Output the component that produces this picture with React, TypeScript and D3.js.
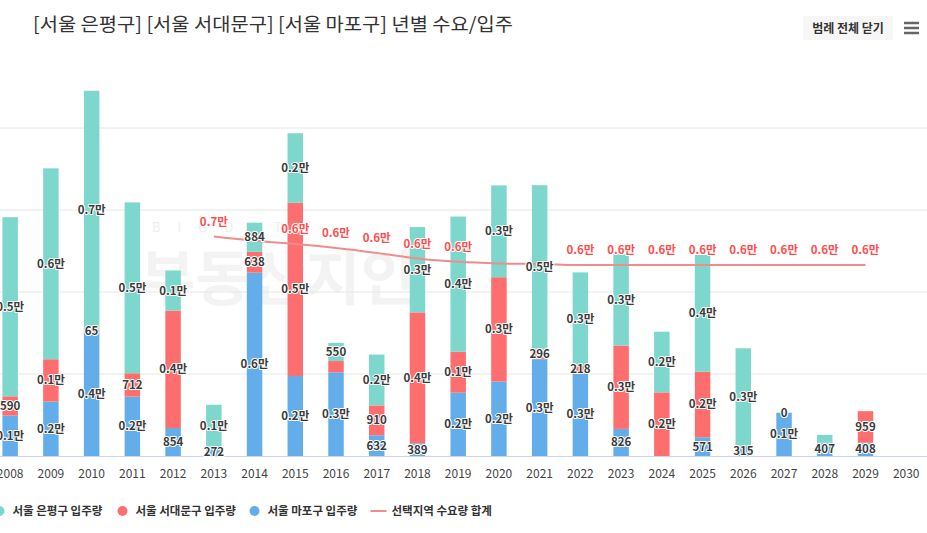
import { useMemo } from 'react';
import * as d3 from 'd3';

// years on the x axis
const years = [
  2008, 2009, 2010, 2011, 2012, 2013, 2014, 2015, 2016, 2017, 2018, 2019,
  2020, 2021, 2022, 2023, 2024, 2025, 2026, 2027, 2028, 2029, 2030,
];

// 서울 은평구 입주량
const eunpyeong: Array<number | null> = [
  5460, 5820, 7300, 5210, 1220, 1290, 884, 2120, 550, 1550, 2600, 4120,
  2800, 5010, 2840, 2780, 1850, 3560, 2970, 0, 235, null, null,
];
// 서울 서대문구 입주량
const seodaemun: Array<number | null> = [
  590, 1290, 65, 712, 3580, null, 638, 5280, 345, 910, 3990, 1250,
  3180, 296, 218, 2540, 1940, 2000, null, null, null, 959, null,
];
// 서울 마포구 입주량
const mapo: Array<number | null> = [
  1230, 1660, 3770, 1810, 854, 272, 5590, 2440, 2550, 632, 389, 1930,
  2270, 2950, 2540, 826, null, 571, 315, 1320, 407, 408, null,
];
// 선택지역 수요량 합계
const demand: Array<number | null> = [
  null, null, null, null, null, 6690, 6560, 6460, 6340, 6190, 6020, 5920,
  5870, 5850, 5820, 5820, 5820, 5820, 5820, 5820, 5820, 5820, null,
];

const gridTicks = [2500, 5000, 7500, 10000];

const W = 927;
const H = 533;
const FONT = '"Noto Sans CJK KR", "Noto Sans", sans-serif';

const C_TEAL = '#7dd7cc';
const C_RED = '#ff6e6e';
const C_BLUE = '#63aeea';
const C_LINE = '#f08c8c';
const C_LINE_LABEL = '#ff4d4d';

function fmt(v: number): string {
  return v >= 1000 ? `${(v / 10000).toFixed(1)}만` : String(v);
}

function textWidth(s: string): number {
  let w = 0;
  for (const ch of s) w += /[\u3131-\uD79D]/.test(ch) ? 11 : 6.6;
  return w;
}

interface Label {
  x: number;
  y: number;
  text: string;
  rank: number;
  line: boolean;
}

export default function App() {
  const x = d3
    .scaleBand<number>()
    .domain(years)
    .range([-10.2, -10.2 + years.length * 40.73]);
  const y = d3.scaleLinear().domain([0, 12500]).range([456, 46]);
  const bw = x.bandwidth() * 0.38;
  const cx = (yr: number) => (x(yr) ?? 0) + x.bandwidth() / 2;

  const series = [
    { name: '서울 마포구 입주량', color: C_BLUE, values: mapo },
    { name: '서울 서대문구 입주량', color: C_RED, values: seodaemun },
    { name: '서울 은평구 입주량', color: C_TEAL, values: eunpyeong },
  ];

  const { rects, labels } = useMemo(() => {
    const rects: Array<{ key: string; x: number; y: number; h: number; color: string }> = [];
    const all: Label[] = [];
    years.forEach((yr, i) => {
      let base = 0;
      series.forEach((s) => {
        const v = s.values[i];
        if (v == null) return;
        const y0 = y(base);
        const y1 = y(base + v);
        rects.push({ key: `${s.name}-${yr}`, x: cx(yr) - bw / 2, y: y1, h: y0 - y1, color: s.color });
        all.push({ x: cx(yr), y: (y0 + y1) / 2, text: fmt(v), rank: y0 - y1, line: false });
        base += v;
      });
      const d = demand[i];
      if (d != null) {
        all.push({ x: cx(yr), y: y(d) - 15, text: fmt(d), rank: -1, line: true });
      }
    });
    // hide overlapping labels, larger segments win
    const placed: Label[] = [];
    [...all]
      .sort((a, b) => b.rank - a.rank)
      .forEach((l) => {
        const w = textWidth(l.text);
        const hit = placed.some((p) => {
          const pw = textWidth(p.text);
          return Math.abs(p.y - l.y) < 20 && Math.abs(p.x - l.x) < (w + pw) / 2;
        });
        if (!hit) placed.push(l);
      });
    return { rects, labels: placed };
  }, []);

  const linePts = years
    .map((yr, i) => ({ yr, v: demand[i] }))
    .filter((d) => d.v != null) as Array<{ yr: number; v: number }>;
  const linePath = d3
    .line<{ yr: number; v: number }>()
    .x((d) => cx(d.yr))
    .y((d) => y(d.v))
    .curve(d3.curveMonotoneX)(linePts);

  const legend = [
    { name: '서울 은평구 입주량', color: C_TEAL, x: -0.5, type: 'dot' },
    { name: '서울 서대문구 입주량', color: C_RED, x: 122.5, type: 'dot' },
    { name: '서울 마포구 입주량', color: C_BLUE, x: 254.5, type: 'dot' },
    { name: '선택지역 수요량 합계', color: C_LINE, x: 378.5, type: 'line' },
  ];

  return (
    <div style={{ position: 'absolute', left: 0, top: 0 }}>
      <svg width={W} height={H} viewBox={`0 0 ${W} ${H}`} style={{ display: 'block', fontFamily: FONT }}>
        <rect width={W} height={H} fill="#fff" />

        {/* title */}
        <text x={33} y={31} fontSize={18.5} fill="#333" textLength={480} lengthAdjust="spacingAndGlyphs">
          [서울 은평구] [서울 서대문구] [서울 마포구] 년별 수요/입주
        </text>

        {/* legend toggle button + menu */}
        <rect x={803} y={16} width={90} height={24} rx={2} fill="#f6f6f6" />
        <text x={848} y={32.5} fontSize={12} fontWeight={700} fill="#333" textAnchor="middle">
          범례 전체 닫기
        </text>
        {[23, 28, 33].map((ly) => (
          <line key={ly} x1={904} x2={919} y1={ly} y2={ly} stroke="#666" strokeWidth={2.5} />
        ))}

        {/* watermark */}
        <g opacity={0.9}>
          <text x={152} y={232} fontSize={13} letterSpacing={17} fill="#ededed">
            BIGDATA
          </text>
          <text x={140} y={300} fontSize={60} fontWeight={700} fill="#f2f2f2">
            부동산지인
          </text>
        </g>

        {/* grid */}
        {gridTicks.map((t) => (
          <line key={t} x1={0} x2={W} y1={y(t)} y2={y(t)} stroke="#e6e6e6" strokeWidth={1} />
        ))}

        {/* bars */}
        {rects.map((r) => (
          <rect key={r.key} x={r.x} y={r.y} width={bw} height={Math.max(0, r.h)} fill={r.color} />
        ))}

        {/* x axis */}
        <line x1={0} x2={W} y1={y(0) + 0.5} y2={y(0) + 0.5} stroke="#ccd6eb" strokeWidth={1} />
        {years.map((yr) => (
          <text key={yr} x={cx(yr)} y={478} fontSize={12} fill="#444" textAnchor="middle">
            {yr}
          </text>
        ))}

        {/* demand line */}
        <path d={linePath ?? ''} fill="none" stroke={C_LINE} strokeWidth={2} />

        {/* data labels */}
        {labels.map((l, i) => (
          <text
            key={i}
            x={l.x}
            y={l.y + 4}
            fontSize={11.5}
            fontWeight={700}
            fill={l.line ? C_LINE_LABEL : '#3a3a3a'}
            stroke="#fff"
            strokeWidth={2}
            strokeLinejoin="round"
            paintOrder="stroke"
            textAnchor="middle"
          >
            {l.text}
          </text>
        ))}

        {/* legend */}
        {legend.map((lg) => (
          <g key={lg.name}>
            {lg.type === 'dot' ? (
              <circle cx={lg.x} cy={511} r={5} fill={lg.color} />
            ) : (
              <line x1={lg.x - 8} x2={lg.x + 8} y1={511} y2={511} stroke={lg.color} strokeWidth={2} />
            )}
            <text x={lg.x + 13} y={515} fontSize={11.5} fontWeight={700} fill="#333">
              {lg.name}
            </text>
          </g>
        ))}
      </svg>
    </div>
  );
}
